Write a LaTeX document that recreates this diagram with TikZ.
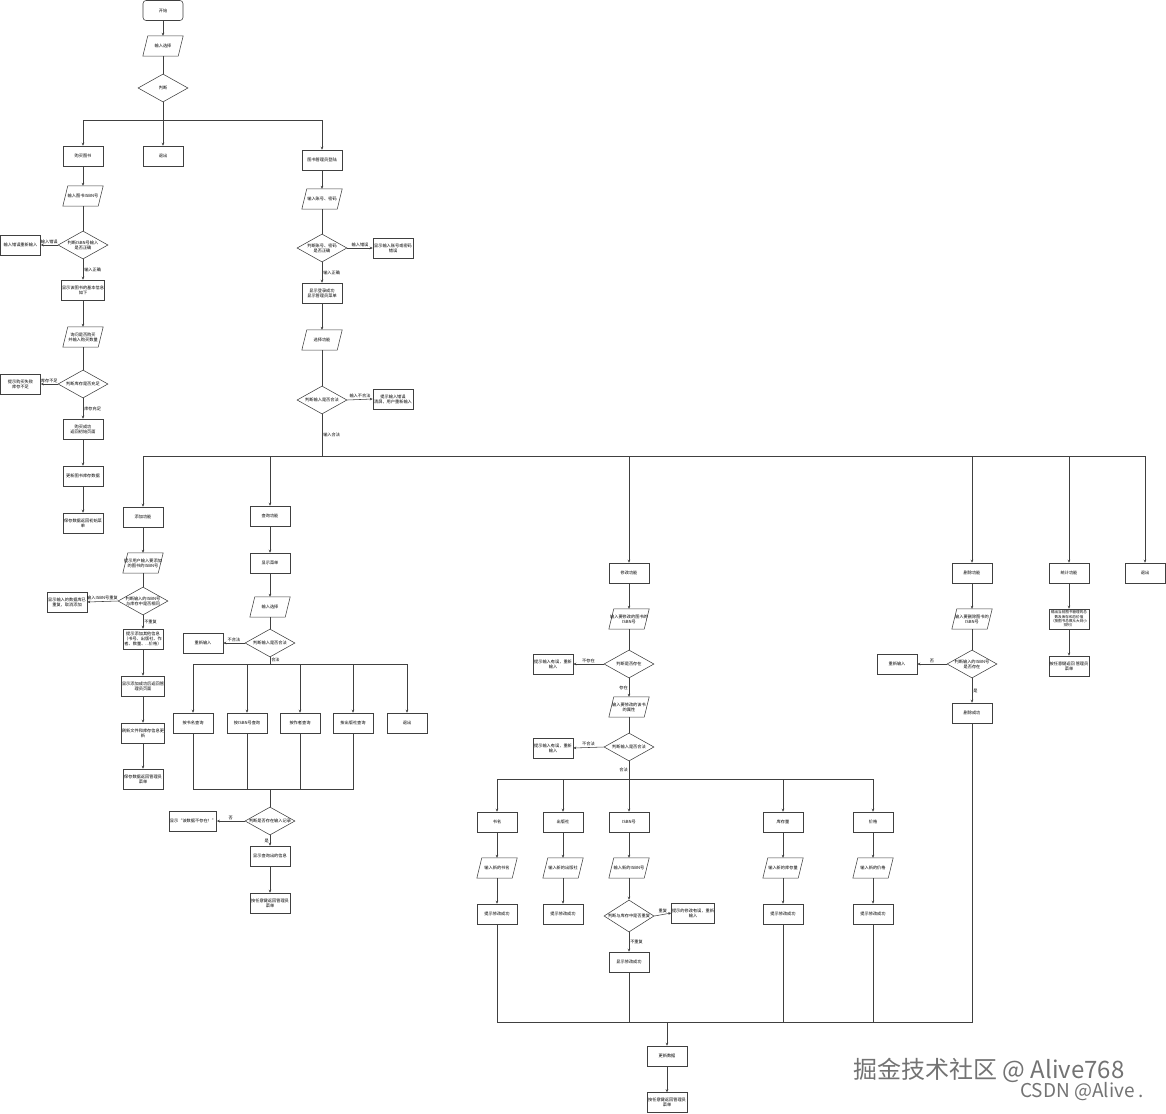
\documentclass[tikz,border=0pt]{standalone}
\usepackage{fontspec}
\setmainfont{Noto Sans CJK SC}
\usetikzlibrary{shapes.geometric,arrows.meta}
\newcommand\myfont{\fontsize{4.2}{5.1}\selectfont}
\newcommand\mysmall{\fontsize{3.6}{4.3}\selectfont}
\newcommand\mydia[3]{\node[dshape] (#1) at (#2) {}; \node[txt] (#1t) at (#1) {#3};}
\newcommand\mypara[3]{\node[pbox] (#1) at (#2) {};
  \draw[ln] ([xshift=5pt]#1.north west) -- (#1.north east) -- ([xshift=-5pt]#1.south east) -- (#1.south west) -- cycle;
  \node[txt] (#1t) at (#1) {#3};}
\begin{document}
\begin{tikzpicture}[x=1pt,y=-1pt,
  every node/.style={font=\myfont},
  ln/.style={draw=black!75, line width=0.55pt},
  box/.style={draw=black!75, line width=0.55pt, rectangle, minimum width=40pt, minimum height=20pt, inner xsep=0.5pt, inner ysep=1pt, align=center},
  rbox/.style={box, rounded corners=3pt},
  pbox/.style={rectangle, minimum width=40pt, minimum height=20pt, inner sep=0pt},
  dshape/.style={draw=black!75, line width=0.55pt, diamond, minimum width=50pt, minimum height=28pt, inner sep=0pt},
  txt/.style={inner sep=0pt, align=center},
  lbl/.style={inner sep=1pt, font=\myfont},
  arr/.style={ln, -{Stealth[length=3pt,width=2.6pt]}},
  wm/.style={text=black!55, inner sep=0pt}
]
\fill[white] (0,0) rectangle (1166,1113);
\useasboundingbox (0,0) rectangle (1166,1113);

% ---------- top ----------
\node[rbox] (start) at (163,10.5) {开始};
\mypara{in0}{163,46}{输入选择}
\mydia{d0}{163,88}{判断}
\coordinate (b0) at (163,120);
\node[box] (buy) at (83,156) {购买图书};
\node[box] (quit0) at (163,156) {退出};
\node[box] (admin) at (322,160) {图书管理员登陆};

% ---------- buy ----------
\mypara{p1}{83,196}{输入图书ISBN号}
\mydia{d1}{83,245}{判断ISBN号输入\\是否正确}
\node[box] (e1) at (20.5,245) {输入错误重新输入};
\node[box] (b1) at (83,290) {显示该图书的基本信息\\如下};
\mypara{p2}{83,337}{询问是否购买\\并输入购买数量}
\mydia{d2}{83,384}{判断库存是否充足}
\node[box] (e2) at (20.5,384) {提示购买失败\\库存不足};
\node[box] (b2) at (83,429) {购买成功\\返回初始页面};
\node[box] (b3) at (83,476) {更新图书库存数据};
\node[box] (b4) at (83,523) {保存数据返回初始菜\\单};

% ---------- admin ----------
\mypara{p3}{322,199}{输入账号、密码}
\mydia{d3}{322,248}{判断账号、密码\\是否正确}
\node[box] (e3) at (393,248) {显示输入账号或密码\\错误};
\node[box] (b5) at (322,293) {显示登录成功\\显示管理员菜单};
\mypara{p4}{322,340}{选择功能}
\mydia{d4}{322,400}{判断输入是否合法}
\node[box] (e4) at (393,399) {提示输入错误\\清屏，用户重新输入};
\coordinate (bus1) at (322,456);

\node[box] (add) at (143,517) {添加功能};
\node[box] (qry) at (270,516) {查询功能};
\node[box] (mod) at (629,573) {修改功能};
\node[box] (del) at (972,573) {删除功能};
\node[box] (sta) at (1069,573) {统计功能};
\node[box] (quit1) at (1145,573) {退出};

% ---------- add ----------
\mypara{p5}{143,563}{提示用户输入要添加\\的图书的ISBN号}
\mydia{d5}{143,601}{判断输入的ISBN号\\与库存中是否相同}
\node[box] (e5) at (67,602) {显示输入的数据库已\\重复，取消添加};
\node[box] (b6) at (143,639) {提示添加其他信息\\（书号、出版社、作\\者、数量、...价格）};
\node[box] (b7) at (143,686) {显示添加成功后返回管\\理员页面};
\node[box] (b8) at (143,733) {刷新文件和库存信息更\\新};
\node[box] (b9) at (143,779) {保存数据返回管理员\\菜单};

% ---------- query ----------
\node[box] (b10) at (270,563) {显示菜单};
\mypara{p6}{270,607}{输入选择}
\mydia{d6}{270,643}{判断输入是否合法}
\node[box] (e6) at (203,643) {重新输入};
\coordinate (bus2) at (270,664);
\node[box] (q1) at (193,723) {按书名查询};
\node[box] (q2) at (247,723) {按ISBN号查询};
\node[box] (q3) at (300,723) {按作者查询};
\node[box] (q4) at (353,723) {按出版社查询};
\node[box] (q5) at (407,723) {退出};
\coordinate (m2) at (270,789);
\mydia{d7}{270,821}{判断是否存在输入记录}
\node[box] (e7) at (193,821) {显示“该数据不存在！”};
\node[box] (b11) at (270,856) {显示查询出的信息};
\node[box] (b12) at (270,903) {按任意键返回管理员\\菜单};

% ---------- modify ----------
\mypara{p7}{629,619}{输入要修改的图书的\\ISBN号}
\mydia{d8}{629,664}{判断是否存在}
\node[box] (e8) at (553,664) {提示输入有误，重新\\输入};
\mypara{p8}{629,707}{输入要修改的该书\\的属性}
\mydia{d9}{629,747}{判断输入是否合法}
\node[box] (e9) at (553,748) {提示输入有误，重新\\输入};
\coordinate (bus3) at (629,779);
\node[box] (m1) at (497,822) {书名};
\node[box] (mm2) at (563,822) {出版社};
\node[box] (m3) at (629,822) {ISBN号};
\node[box] (m4) at (783,822) {库存量};
\node[box] (m5) at (873,822) {价格};
\mypara{pm1}{497,868}{输入新的书名}
\mypara{pm2}{563,868}{输入新的出版社}
\mypara{pm3}{629,868}{输入新的ISBN号}
\mypara{pm4}{783,868}{输入新的库存量}
\mypara{pm5}{873,868}{输入新的价格}
\node[box] (r1) at (497,914) {提示修改成功};
\node[box] (r2) at (563,914) {提示修改成功};
\node[dshape, minimum height=32pt] (d10) at (629,916) {};
\node[txt] (d10t) at (d10) {判断与库存中是否重复};
\node[box] (e10) at (693,913) {提示的修改有误，重新\\输入};
\node[box] (r3) at (629,962) {显示修改成功};
\node[box] (r4) at (783,914) {提示修改成功};
\node[box] (r5) at (873,914) {提示修改成功};
\coordinate (bus4) at (667,1022);
\node[box] (upd) at (667,1056) {更新数据};
\node[box] (fin) at (667,1102.5) {按任意键返回管理员\\菜单};

% ---------- delete ----------
\mypara{p9}{972,619}{输入要删除图书的\\ISBN号}
\mydia{d11}{972,664}{判断输入的ISBN号\\是否存在}
\node[box] (e11) at (897,664) {重新输入};
\node[box] (b13) at (972,713) {删除成功};

% ---------- stats ----------
\node[box, font=\mysmall] (b14) at (1069,619) {输出当前图书管理的总\\数及库存和总价值\\（按图书总数从大到小\\排列）};
\node[box] (b15) at (1069,666) {按任意键返回 管理员\\菜单};

% ---------- watermark ----------
\node[wm, font=\fontsize{24}{26}\selectfont, anchor=west] (wm1) at (853,1070) {掘金技术社区 @ Alive768};
\node[wm, font=\fontsize{19}{21}\selectfont, anchor=west] (wm2) at (1020,1092) {CSDN @Alive .};

% ================= connectors =================
\draw[arr] (start) -- (in0);
\draw[ln] (in0) -- (d0);
\draw[ln] (d0.south) -- (b0);
\draw[arr] (b0) -- (quit0.north);
\draw[arr] (b0) -| (buy.north);
\draw[arr] (b0) -| (admin.north);

\draw[arr] (buy) -- (p1);
\draw[ln] (p1) -- (d1);
\draw[arr] (d1.west) -- node[lbl,above]{输入错误} (e1.east);
\draw[arr] (d1.south) -- node[lbl,right]{输入正确} (b1.north);
\draw[arr] (b1) -- (p2);
\draw[ln] (p2) -- (d2);
\draw[arr] (d2.west) -- node[lbl,above]{库存不足} (e2.east);
\draw[arr] (d2.south) -- node[lbl,right]{库存充足} (b2.north);
\draw[arr] (b2) -- (b3);
\draw[arr] (b3) -- (b4);

\draw[arr] (admin) -- (p3);
\draw[ln] (p3) -- (d3);
\draw[arr] (d3.east) -- node[lbl,above]{输入错误} (e3.west);
\draw[arr] (d3.south) -- node[lbl,right]{输入正确} (b5.north);
\draw[arr] (b5) -- (p4);
\draw[ln] (p4) -- (d4);
\draw[arr] (d4.east) -- node[lbl,above]{输入不合法} (e4.west);
\draw[ln] (d4.south) -- node[lbl,right]{输入合法} (bus1);
\draw[arr] (bus1) -| (add.north);
\draw[arr] (bus1) -| (qry.north);
\draw[arr] (bus1) -| (mod.north);
\draw[arr] (bus1) -| (del.north);
\draw[arr] (bus1) -| (sta.north);
\draw[arr] (bus1) -| (quit1.north);

\draw[arr] (add) -- (p5);
\draw[ln] (p5) -- (d5);
\draw[arr] (d5.west) -- node[lbl,above]{输入ISBN号重复} (e5.east);
\draw[arr] (d5.south) -- node[lbl,right]{不重复} (b6.north);
\draw[arr] (b6) -- (b7);
\draw[arr] (b7) -- (b8);
\draw[arr] (b8) -- (b9);

\draw[arr] (qry) -- (b10);
\draw[arr] (b10) -- (p6);
\draw[ln] (p6) -- (d6);
\draw[arr] (d6.west) -- node[lbl,above]{不合法} (e6.east);
\draw[ln] (d6.south) -- node[lbl,right,pos=0.4]{合法} (bus2);
\draw[arr] (bus2) -| (q1.north);
\draw[arr] (bus2) -| (q2.north);
\draw[arr] (bus2) -| (q3.north);
\draw[arr] (bus2) -| (q4.north);
\draw[arr] (bus2) -| (q5.north);
\draw[ln] (q1.south) |- (m2);
\draw[ln] (q2.south) |- (m2);
\draw[ln] (q3.south) |- (m2);
\draw[ln] (q4.south) |- (m2);
\draw[ln] (m2) -- (d7.north);
\draw[arr] (d7.west) -- node[lbl,above]{否} (e7.east);
\draw[arr] (d7.south) -- node[lbl,left]{是} (b11.north);
\draw[arr] (b11) -- (b12);

\draw[arr] (mod) -- (p7);
\draw[ln] (p7) -- (d8);
\draw[arr] (d8.west) -- node[lbl,above]{不存在} (e8.east);
\draw[arr] (d8.south) -- node[lbl,left]{存在} (p8.north);
\draw[ln] (p8) -- (d9);
\draw[arr] (d9.west) -- node[lbl,above]{不合法} (e9.east);
\draw[ln] (d9.south) -- node[lbl,left]{合法} (bus3);
\draw[arr] (bus3) -| (m1.north);
\draw[arr] (bus3) -| (mm2.north);
\draw[arr] (bus3) -- (m3.north);
\draw[arr] (bus3) -| (m4.north);
\draw[arr] (bus3) -| (m5.north);
\draw[arr] (m1) -- (pm1);
\draw[arr] (mm2) -- (pm2);
\draw[arr] (m3) -- (pm3);
\draw[arr] (m4) -- (pm4);
\draw[arr] (m5) -- (pm5);
\draw[arr] (pm1) -- (r1);
\draw[arr] (pm2) -- (r2);
\draw[arr] (pm3) -- (d10);
\draw[arr] (pm4) -- (r4);
\draw[arr] (pm5) -- (r5);
\draw[arr] (d10.east) -- node[lbl,above]{重复} (e10.west);
\draw[arr] (d10.south) -- node[lbl,right]{不重复} (r3.north);
\draw[ln] (r1.south) |- (bus4);
\draw[ln] (r3.south) |- (bus4);
\draw[ln] (r4.south) |- (bus4);
\draw[ln] (r5.south) |- (bus4);
\draw[ln] (b13.south) |- (bus4);
\draw[arr] (bus4) -- (upd);
\draw[arr] (upd) -- (fin);

\draw[arr] (del) -- (p9);
\draw[ln] (p9) -- (d11);
\draw[arr] (d11.west) -- node[lbl,above]{否} (e11.east);
\draw[arr] (d11.south) -- node[lbl,right]{是} (b13.north);

\draw[arr] (sta) -- (b14);
\draw[arr] (b14) -- (b15);
\end{tikzpicture}
\end{document}
